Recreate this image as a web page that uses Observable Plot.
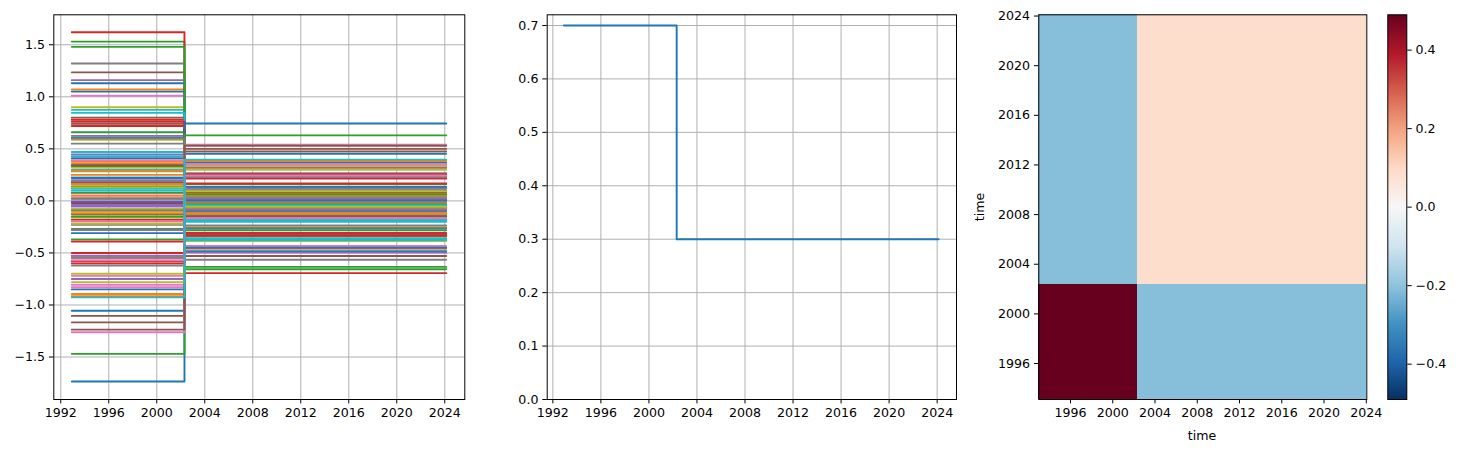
<!DOCTYPE html>
<html><head><meta charset="utf-8">
<script src="https://cdn.jsdelivr.net/npm/d3@7"></script>
<script src="https://cdn.jsdelivr.net/npm/@observablehq/plot@0.6"></script>
<style>
body{margin:0;background:#fff;}
#root{position:relative;width:1459px;height:452px;overflow:hidden;font-family:"DejaVu Sans",sans-serif;background:#fff;}
.panel{position:absolute;top:0;}
.lbl{position:absolute;font-family:"DejaVu Sans",sans-serif;font-size:12.6px;color:#000;white-space:nowrap;}
</style></head><body><div id="root"></div>
<script>
// ---------- data ----------
const startYear = 1992.92, switchYear = 2002.31, endYear = 2024.12;
const yearTicks = [1992, 1996, 2000, 2004, 2008, 2012, 2016, 2020, 2024];
const heatYearTicks = [1996, 2000, 2004, 2008, 2012, 2016, 2020, 2024];

// values before the switch (series order follows the colour cycle)
const preValues = [
  1.13, 1.07, 1.53, 1.62, 1.16, 1.235, 1.01, 1.32, 0.90, 0.875,
  1.05, 0.375, 1.48, 0.78, 0.625, 0.80, 0.07, 0.55, 0.587, 0.846,
  0.607, 0.355, 0.66, 0.76, 0.447, 0.74, 0.006, -0.62, 0.32, 0.47,
  0.41, 0.25, 0.335, 0.72, 0.025, 0.175, -0.198, 0.345, -0.077, 0.43,
  -0.85, 0.16, 0.14, -0.02, -0.04, -0.128, -0.72, 0.19, -0.105, 0.30,
  -1.055, 0.048, -0.27, -0.18, -0.055, -0.546, -0.805, -0.09, -0.16, 0.285,
  -1.735, -0.895, -0.37, -0.39, -0.527, -1.105, -0.83, -0.23, -0.22, 0.225,
  0.22, -0.915, -1.47, -0.50, -0.75, -1.167, -1.262, 0.60, -0.70, 0.118,
  -0.01, -0.12, 0.08, -0.58, 0.20, -1.237, 0.39, -0.54, -0.78, 0.10,
  -0.31, 0.29, -0.15, -0.60, -0.28, 0.34, -0.57, 0.02, 0.13, -0.927
];
// values after the switch
const postValues = [
  -0.484, -0.459, -0.656, -0.694, -0.497, -0.529, -0.433, -0.566, -0.386, -0.375,
  -0.45, -0.161, -0.634, -0.334, -0.268, -0.343, -0.03, -0.236, -0.252, -0.363,
  -0.26, -0.152, -0.283, -0.326, -0.192, -0.317, -0.003, 0.266, -0.137, -0.201,
  -0.176, -0.107, -0.144, -0.309, -0.011, -0.075, 0.085, -0.148, 0.033, -0.184,
  0.364, -0.069, -0.06, 0.009, 0.017, 0.055, 0.309, -0.081, 0.045, -0.129,
  0.452, -0.021, 0.116, 0.077, 0.024, 0.234, 0.345, 0.039, 0.069, -0.122,
  0.744, 0.384, 0.159, 0.167, 0.226, 0.474, 0.356, 0.099, 0.094, -0.096,
  -0.094, 0.392, 0.63, 0.214, 0.321, 0.5, 0.541, -0.257, 0.30, -0.051,
  0.004, 0.051, -0.034, 0.249, -0.086, 0.53, -0.167, 0.231, 0.334, -0.043,
  0.133, -0.124, 0.064, 0.257, 0.12, -0.146, 0.244, -0.009, -0.056, 0.397
];
const leftYTicks = [-1.5, -1.0, -0.5, 0.0, 0.5, 1.0, 1.5];

// standard deviation step (middle)
const stdTimes = [1992.92, 2002.31, 2024.12];
const stdValues = [0.7, 0.3, 0.3];
const midYTicks = [0.0, 0.1, 0.2, 0.3, 0.4, 0.5, 0.6, 0.7];

// covariance heatmap (right)
const heatXEdges = [1993.0, 2002.33, 2024.05];
const heatYEdges = [1993.1, 2002.38, 2024.1];
const covMatrix = [[0.49, -0.21], [-0.21, 0.09]]; // [yRow][xCol]
const cbTicks = [-0.4, -0.2, 0.0, 0.2, 0.4];
const cbLimit = 0.49;

// ---------- helpers ----------
const rdbu = ["#053061","#2166ac","#4393c3","#92c5de","#d1e5f0","#f7f7f7","#fddbc7","#f4a582","#d6604d","#b2182b","#67001f"];
const rdbuR = d3.piecewise(d3.interpolateRgb, rdbu);
const tab10 = d3.schemeCategory10;
const fmt1 = d => (d < -1e-9 ? "\u2212" : "") + Math.abs(d).toFixed(1);
const style = {fontFamily: "DejaVu Sans, sans-serif", fontSize: "12.6px", color: "#000", background: "transparent", overflow: "visible"};
const gridStyle = {stroke: "#b0b0b0", strokeOpacity: 1, strokeWidth: 1};
const tk = {tickSize: 4.4, tickPadding: 4.4, stroke: "#000", label: null};
const root = document.getElementById("root");
function place(node, left) { const d = document.createElement("div"); d.className = "panel"; d.style.left = left + "px"; d.appendChild(node); root.appendChild(d); }
function label(text, x, y, rot) { const d = document.createElement("div"); d.className = "lbl"; d.textContent = text; d.style.left = x + "px"; d.style.top = y + "px"; d.style.transform = "translate(-50%,-50%)" + (rot ? " rotate(-90deg)" : ""); root.appendChild(d); }

// ---------- left panel ----------
const lineRows = [];
preValues.forEach((p, i) => {
  lineRows.push({s: i, t: startYear, v: p});
  lineRows.push({s: i, t: switchYear, v: postValues[i]});
  lineRows.push({s: i, t: endYear, v: postValues[i]});
});
place(Plot.plot({
  width: 480, height: 452, marginLeft: 53.3, marginRight: 15.7, marginTop: 14.3, marginBottom: 53,
  x: {domain: [1991.42, 2025.67]}, y: {domain: [-1.908, 1.788]},
  style,
  marks: [
    Plot.gridX(yearTicks, gridStyle),
    Plot.gridY(leftYTicks, gridStyle),
    Plot.line(lineRows, {x: "t", y: "v", z: "s", stroke: d => tab10[d.s % 10], curve: "step-after", strokeWidth: 1.9}),
    Plot.frame({stroke: "#000"}),
    Plot.axisX(yearTicks, {...tk, tickFormat: "d"}),
    Plot.axisY(leftYTicks, {...tk, tickFormat: fmt1})
  ]
}), 0);

// ---------- middle panel ----------
const stdRows = stdTimes.map((t, i) => ({t, v: stdValues[i]}));
place(Plot.plot({
  width: 480, height: 452, marginLeft: 66.7, marginRight: 4, marginTop: 14.3, marginBottom: 53,
  x: {domain: [1991.53, 2025.61]}, y: {domain: [0, 0.72]},
  style,
  marks: [
    Plot.gridX(yearTicks, gridStyle),
    Plot.gridY(midYTicks, gridStyle),
    Plot.line(stdRows, {x: "t", y: "v", stroke: "#1f77b4", curve: "step-after", strokeWidth: 1.9}),
    Plot.frame({stroke: "#000"}),
    Plot.axisX(yearTicks, {...tk, tickFormat: "d"}),
    Plot.axisY(midYTicks, {...tk, tickFormat: fmt1})
  ]
}), 480);

// ---------- heatmap ----------
const cells = [];
covMatrix.forEach((row, r) => row.forEach((v, c) => cells.push({
  x1: heatXEdges[c], x2: heatXEdges[c + 1], y1: heatYEdges[r], y2: heatYEdges[r + 1], v
})));
const colorScale = {type: "linear", domain: [-cbLimit, cbLimit], interpolate: rdbuR, clamp: true};
place(Plot.plot({
  width: 440, height: 452, marginLeft: 78.3, marginRight: 33.7, marginTop: 14.3, marginBottom: 53,
  x: {domain: [heatXEdges[0], heatXEdges[2]]}, y: {domain: [heatYEdges[0], heatYEdges[2]]},
  color: colorScale,
  style,
  marks: [
    Plot.rect(cells, {x1: "x1", x2: "x2", y1: "y1", y2: "y2", fill: "v", inset: 0, shapeRendering: "crispEdges"}),
    Plot.frame({stroke: "#000"}),
    Plot.axisX(heatYearTicks, {...tk, tickFormat: "d"}),
    Plot.axisY(heatYearTicks, {...tk, tickFormat: "d"})
  ]
}), 960);

// ---------- colorbar ----------
place(Plot.plot({
  width: 79, height: 452, marginLeft: 7.3, marginRight: 52.7, marginTop: 14.3, marginBottom: 53,
  x: {domain: [0, 1], axis: null}, y: {domain: [-cbLimit, cbLimit]},
  color: colorScale,
  style,
  marks: [
    Plot.raster({x1: 0, x2: 1, y1: -cbLimit, y2: cbLimit, fill: (x, y) => y}),
    Plot.frame({stroke: "#000"}),
    Plot.axisY(cbTicks, {...tk, anchor: "right", tickFormat: fmt1})
  ]
}), 1380);

label("time", 1202, 435, false);
label("time", 979, 207, true);
</script></body></html>
